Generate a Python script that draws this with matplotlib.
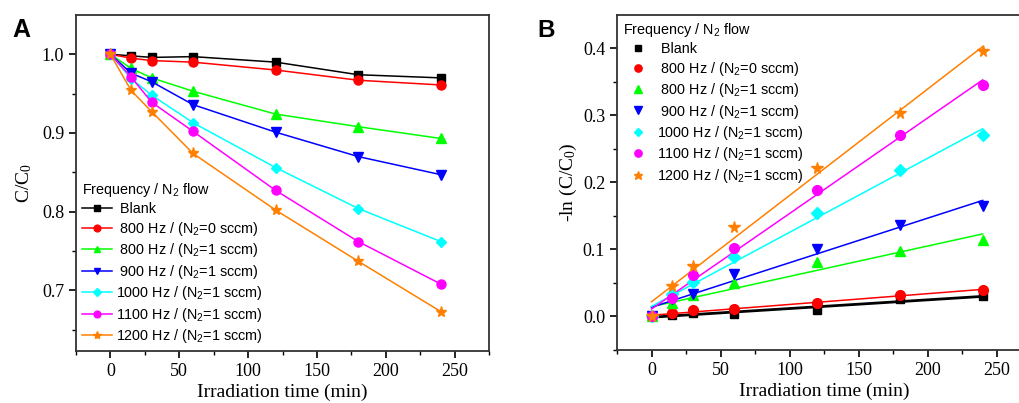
import numpy as np
import matplotlib
matplotlib.use("Agg")
import matplotlib.pyplot as plt

plt.rcParams['font.family'] = ['Liberation Serif', 'DejaVu Serif']
plt.rcParams['mathtext.default'] = 'regular'

# Data
t = [0, 15, 30, 60, 120, 180, 240]
labels = [" Blank", " 800 Hz / (N$_2$=0 sccm)", " 800 Hz / (N$_2$=1 sccm)",
          " 900 Hz / (N$_2$=1 sccm)", "1000 Hz / (N$_2$=1 sccm)",
          "1100 Hz / (N$_2$=1 sccm)", "1200 Hz / (N$_2$=1 sccm)"]
colors = ['#000000', '#FF0000', '#00FF00', '#0000FF', '#00FFFF', '#FF00FF', '#FF8000']
markers = ['s', 'o', '^', 'v', 'D', 'o', '*']
msA = [6, 6.5, 6.5, 6.5, 5.5, 6.5, 8]
msB = [6, 7, 7, 7, 6, 7, 8.5]

# C/C0 (panel A)
blank = [1.0, 0.998, 0.996, 0.997, 0.990, 0.974, 0.970]
hz800_0 = [1.0, 0.995, 0.992, 0.990, 0.980, 0.967, 0.961]
hz800_1 = [1.0, 0.982, 0.970, 0.953, 0.924, 0.908, 0.893]
hz900 = [1.0, 0.976, 0.965, 0.936, 0.901, 0.870, 0.847]
hz1000 = [1.0, 0.969, 0.948, 0.913, 0.856, 0.804, 0.762]
hz1100 = [1.0, 0.971, 0.939, 0.902, 0.827, 0.762, 0.708]
hz1200 = [1.0, 0.954, 0.927, 0.874, 0.802, 0.737, 0.673]
seriesA = [blank, hz800_0, hz800_1, hz900, hz1000, hz1100, hz1200]

# -ln(C/C0) (panel B)
ln_blank = [0.0, 0.002, 0.005, 0.003, 0.010, 0.026, 0.030]
ln_800_0 = [0.0, 0.005, 0.009, 0.011, 0.020, 0.032, 0.040]
ln_800_1 = [0.0, 0.020, 0.032, 0.050, 0.081, 0.097, 0.114]
ln_900 = [0.0, 0.026, 0.034, 0.063, 0.101, 0.136, 0.165]
ln_1000 = [0.0, 0.033, 0.052, 0.089, 0.155, 0.218, 0.271]
ln_1100 = [0.0, 0.028, 0.062, 0.102, 0.189, 0.271, 0.345]
ln_1200 = [0.0, 0.046, 0.076, 0.134, 0.221, 0.304, 0.396]
seriesB = [ln_blank, ln_800_0, ln_800_1, ln_900, ln_1000, ln_1100, ln_1200]

fig = plt.figure(figsize=(10.19, 4.03), dpi=100)
axA = fig.add_axes([0.0746, 0.129, 0.4054, 0.834])
axB = fig.add_axes([0.6055, 0.1315, 0.4063, 0.8315])

legend_kw = dict(title="Frequency / N$_2$ flow", frameon=False,
                 prop={'family': 'Liberation Sans', 'size': 10.4},
                 title_fontproperties={'family': 'Liberation Sans', 'size': 10.4},
                 alignment='left', handlelength=2.1, handletextpad=0.3,
                 labelspacing=0.24, markerscale=0.75, borderaxespad=0.3,
                 borderpad=0.1)

# Panel A
for y, lab, c, m, ms in zip(seriesA, labels, colors, markers, msA):
    axA.plot(t, y, color=c, marker=m, ms=ms, lw=1.1, label=lab)
axA.set_xlim(-25, 275)
axA.set_ylim(0.623, 1.05)
axA.set_xticks([0, 50, 100, 150, 200, 250])
axA.set_xticks([-25, 25, 75, 125, 175, 225, 275], minor=True)
axA.set_yticks([0.7, 0.8, 0.9, 1.0])
axA.set_yticks([0.65, 0.75, 0.85, 0.95], minor=True)
axA.set_xlabel("Irradiation time (min)", fontsize=14, labelpad=3)
axA.set_ylabel("C/C$_0$", fontsize=14, labelpad=6)
axA.legend(loc='lower left', **legend_kw)

# Panel B: points and linear fits
for i, (y, lab, c, m, ms) in enumerate(zip(seriesB, labels, colors, markers, msB)):
    axB.plot(t, y, color=c, marker=m, ms=ms, ls='none', label=lab)
    k, b = np.polyfit(t, y, 1)
    tt = np.array([0, 240])
    axB.plot(tt, k * tt + b, color=c, lw=2 if i == 0 else 1.1, zorder=1)
axB.set_xlim(-25, 275)
axB.set_ylim(-0.05, 0.45)
axB.set_xticks([0, 50, 100, 150, 200, 250])
axB.set_xticks([-25, 25, 75, 125, 175, 225, 275], minor=True)
axB.set_yticks([0.0, 0.1, 0.2, 0.3, 0.4])
axB.set_yticks([-0.05, 0.05, 0.15, 0.25, 0.35], minor=True)
axB.set_xlabel("Irradiation time (min)", fontsize=14, labelpad=3)
axB.set_ylabel("-ln (C/C$_0$)", fontsize=14, labelpad=3)
axB.legend(loc='upper left', **legend_kw)

for ax in (axA, axB):
    ax.tick_params(which='both', direction='out', labelsize=13, top=False, right=False)
    ax.tick_params(which='major', length=5, width=1.2)
    ax.tick_params(which='minor', length=3, width=1.0)
    for s in ax.spines.values():
        s.set_linewidth(1.3)
        s.set_color('#333333')

fig.text(0.0125, 0.909, "A", fontsize=18, fontweight='bold', family='Liberation Sans')
fig.text(0.527, 0.909, "B", fontsize=17.5, fontweight='bold', family='Liberation Sans')

fig.savefig("out.png", dpi=100)
